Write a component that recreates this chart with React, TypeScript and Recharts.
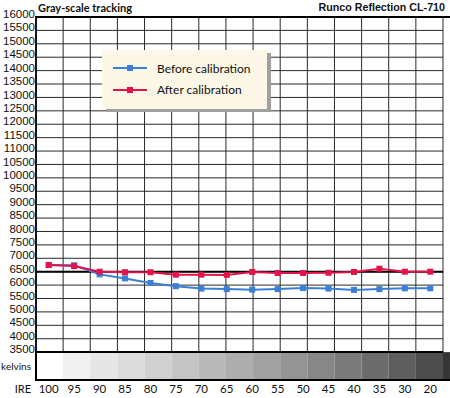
import React from 'react';
import {
  ComposedChart,
  Line,
  XAxis,
  YAxis,
  CartesianGrid,
  ReferenceArea,
  ReferenceLine,
  Legend,
  Label,
} from 'recharts';

const ireLevels = ['100', '95', '90', '85', '80', '75', '70', '65', '60', '55', '50', '45', '40', '35', '30', '20'];
const beforeKelvins = [6750, 6740, 6400, 6250, 6080, 5960, 5870, 5850, 5830, 5850, 5890, 5870, 5820, 5850, 5880, 5880];
const afterKelvins = [6750, 6710, 6500, 6480, 6480, 6390, 6390, 6380, 6490, 6450, 6450, 6460, 6490, 6610, 6500, 6500];
const kelvinTicks = [3500, 4000, 4500, 5000, 5500, 6000, 6500, 7000, 7500, 8000, 8500, 9000, 9500, 10000, 10500, 11000, 11500, 12000, 12500, 13000, 13500, 14000, 14500, 15000, 15500, 16000];
const grayShades = ['#ffffff', '#f1f1f1', '#e6e6e6', '#dbdbdb', '#d0d0d0', '#c5c5c5', '#b9b9b9', '#adadad', '#a1a1a1', '#949494', '#878787', '#7a7a7a', '#6c6c6c', '#5e5e5e', '#4e4e4e', '#363636'];
const seriesNames = ['Before calibration', 'After calibration'];

const KELVIN_MIN = 2460;
const KELVIN_MAX = 16000;
const BAND_TOP = 3500;
const REFERENCE_TEMP = 6500;
const KELVINS_LABEL_TICK = 2980;

const data = ireLevels.map((ire, i) => ({ ire, before: beforeKelvins[i], after: afterKelvins[i] }));
const gridBounds = ireLevels.map((_, i) => i).concat([ireLevels.length]);
const yTicks = [KELVINS_LABEL_TICK, ...kelvinTicks];

const NUM_FONT = '"Liberation Sans", Arial, sans-serif';
const HUM_FONT = 'Lato, "Open Sans", sans-serif';
const BLUE = '#3b7fd6';
const RED = '#e2134a';

const YTick = (props: any) => {
  const { x, y, payload } = props;
  if (payload.value === KELVINS_LABEL_TICK) {
    return (
      <text x={x - 4} y={y} dy="0.355em" textAnchor="end" fontFamily={HUM_FONT} fontSize={10} fill="#111">
        kelvins
      </text>
    );
  }
  return (
    <text x={x} y={y - 3} dy="0.355em" textAnchor="end" fontFamily={NUM_FONT} fontSize={11.5} fill="#111">
      {payload.value}
    </text>
  );
};

const XTick = (props: any) => {
  const { x, y, payload } = props;
  return (
    <text x={x} y={y + 7} dy="0.355em" textAnchor="middle" fontFamily={HUM_FONT} fontSize={11.5} fill="#111">
      {payload.value}
    </text>
  );
};

const SquareDot = (props: any) => {
  const { cx, cy, stroke, key } = props;
  if (cx == null || cy == null) return null;
  return <rect key={key} x={cx - 3} y={cy - 3} width={6} height={6} fill={stroke} />;
};

const LegendBox = (props: any) => {
  const payload = [...(props.payload || [])].sort(
    (a: any, b: any) => seriesNames.indexOf(a.value) - seriesNames.indexOf(b.value)
  );
  return (
    <div
      style={{
        width: 165,
        height: 59,
        background: '#fcf7e6',
        boxShadow: '4px 3px 0 #a0a0a0',
        position: 'relative',
        fontFamily: HUM_FONT,
      }}
    >
      {payload.map((entry: any, i: number) => (
        <div
          key={entry.value}
          style={{ position: 'absolute', left: 10, top: 10 + i * 21.6, height: 16, display: 'flex', alignItems: 'center' }}
        >
          <svg width={36} height={16} style={{ display: 'block' }}>
            <line x1={1} y1={8} x2={35} y2={8} stroke={entry.color} strokeWidth={2} />
            <rect x={15} y={5} width={6} height={6} fill={entry.color} />
          </svg>
          <span style={{ marginLeft: 9, fontSize: 12, color: '#111', whiteSpace: 'nowrap' }}>{entry.value}</span>
        </div>
      ))}
    </div>
  );
};

export default function App() {
  return (
    <div style={{ position: 'absolute', left: 0, top: 0, width: 450, height: 398, background: '#fff' }}>
      <div
        style={{
          position: 'absolute',
          left: 38,
          top: 1,
          fontFamily: HUM_FONT,
          fontWeight: 700,
          fontSize: 11,
          color: '#111',
          lineHeight: '14px',
          whiteSpace: 'nowrap',
        }}
      >
        Gray-scale tracking
      </div>
      <div
        style={{
          position: 'absolute',
          right: 5,
          top: 0,
          fontFamily: NUM_FONT,
          fontWeight: 700,
          fontSize: 10.7,
          color: '#111',
          lineHeight: '14px',
          whiteSpace: 'nowrap',
        }}
      >
        Runco Reflection CL-710
      </div>
      <ComposedChart width={450} height={398} data={data} margin={{ top: 17, right: 7, bottom: 0, left: 0 }}>
        <XAxis
          dataKey="ire"
          scale="band"
          type="category"
          axisLine={false}
          tickLine={false}
          tickSize={0}
          tickMargin={2}
          height={18}
          interval={0}
          tick={<XTick />}
        >
          <Label value="IRE" position="left" offset={5} fontFamily={HUM_FONT} fontSize={11} fill="#111" />
        </XAxis>
        <XAxis xAxisId="grid" type="number" domain={[0, ireLevels.length]} ticks={gridBounds} allowDataOverflow hide />
        <YAxis
          type="number"
          domain={[KELVIN_MIN, KELVIN_MAX]}
          ticks={yTicks}
          interval={0}
          allowDataOverflow
          axisLine={false}
          tickLine={false}
          tickSize={0}
          tickMargin={1}
          width={36}
          tick={<YTick />}
        />
        <YAxis
          yAxisId="grid"
          type="number"
          domain={[KELVIN_MIN, KELVIN_MAX]}
          ticks={kelvinTicks}
          interval={0}
          allowDataOverflow
          hide
        />
        <CartesianGrid xAxisId="grid" yAxisId="grid" vertical={false} stroke="#2a2a2a" strokeWidth={1} />
        {grayShades.map((shade, i) => (
          <ReferenceArea
            key={`band-${i}`}
            xAxisId="grid"
            x1={gridBounds[i]}
            x2={gridBounds[i + 1]}
            y1={KELVIN_MIN}
            y2={BAND_TOP}
            fill={shade}
            fillOpacity={1}
            stroke="none"
            ifOverflow="visible"
          />
        ))}
        {gridBounds.map((b) => (
          <ReferenceLine
            key={`v-${b}`}
            xAxisId="grid"
            segment={[
              { x: b, y: BAND_TOP },
              { x: b, y: KELVIN_MAX },
            ]}
            stroke="#2a2a2a"
            strokeWidth={1}
            ifOverflow="visible"
          />
        ))}
        <ReferenceLine xAxisId="grid" y={REFERENCE_TEMP} stroke="#000" strokeWidth={2} />
        <ReferenceLine xAxisId="grid" y={BAND_TOP} stroke="#000" strokeWidth={2} />
        <ReferenceArea
          xAxisId="grid"
          x1={0}
          x2={ireLevels.length}
          y1={KELVIN_MIN}
          y2={KELVIN_MAX}
          fill="none"
          stroke="#000"
          strokeWidth={2}
          ifOverflow="visible"
        />
        <Legend
          layout="horizontal"
          verticalAlign="middle"
          align="center"
          content={<LegendBox />}
          wrapperStyle={{ position: 'absolute', left: 102, top: 50, width: 165, height: 59 }}
        />
        <Line
          dataKey="before"
          name="Before calibration"
          stroke={BLUE}
          strokeWidth={2}
          dot={<SquareDot />}
          activeDot={false}
          isAnimationActive={false}
        />
        <Line
          dataKey="after"
          name="After calibration"
          stroke={RED}
          strokeWidth={2}
          dot={<SquareDot />}
          activeDot={false}
          isAnimationActive={false}
        />
      </ComposedChart>
    </div>
  );
}
